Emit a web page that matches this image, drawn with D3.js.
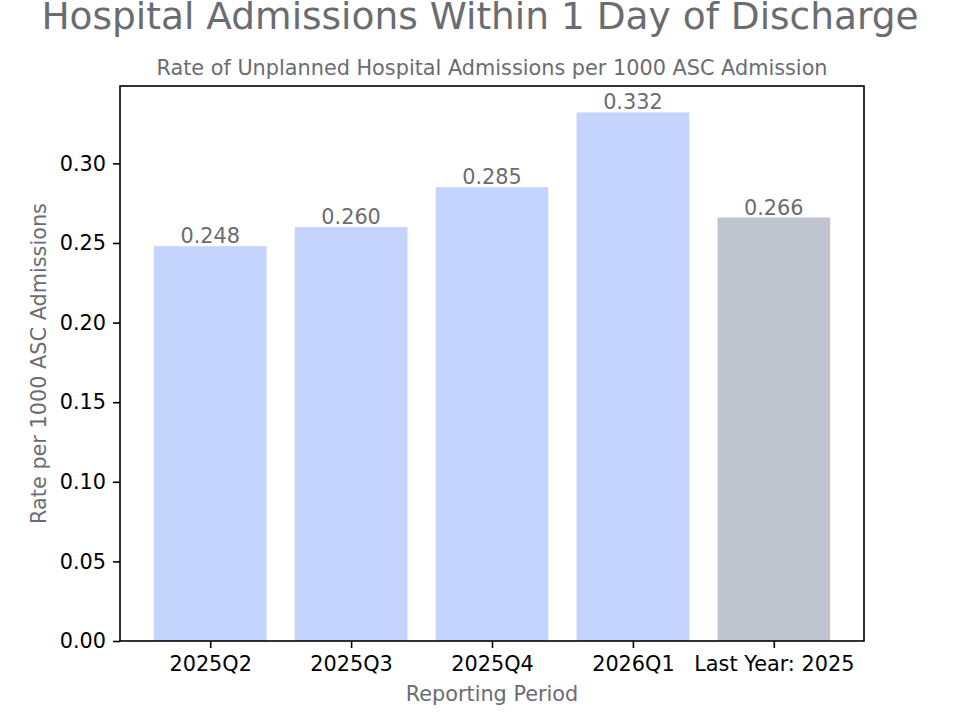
<html>
    <head>
        <script src="https://d3js.org/d3.v7.min.js"></script>
        <style>
            body { margin: 0; background: #fff; }
            text { font-family: "DejaVu Sans", sans-serif; }
        </style>
    </head>
    <body>
        <svg id="svg" width="960" height="720"></svg>
        <script>
            // data
            var periods = ["2025Q2", "2025Q3", "2025Q4", "2026Q1", "Last Year: 2025"];
            var rates = [0.248, 0.260, 0.285, 0.332, 0.266];
            var barColors = ["#c5d4fd", "#c5d4fd", "#c5d4fd", "#c5d4fd", "#c0c4cf"];
            var yTicks = [0, 0.05, 0.10, 0.15, 0.20, 0.25, 0.30];

            var svg = d3.select("svg");
            var plotL = 120, plotR = 864, plotT = 86, plotB = 641;
            var grey = "#6b6c72";
            var fs = 20.8;

            // matplotlib style: bars at 0..n-1, width 0.8, 5% margins
            var n = periods.length;
            var x = d3.scaleLinear()
                .domain([-0.4 - (n - 0.2) * 0.05, n - 0.6 + (n - 0.2) * 0.05])
                .range([plotL, plotR]);
            var y = d3.scaleLinear()
                .domain([0, d3.max(rates) * 1.05])
                .range([plotB, plotT]);

            var g = svg.append("g");

            g.selectAll("rect.bar").data(rates).enter().append("rect")
                .attr("class", "bar")
                .attr("x", function(d, i){ return x(i - 0.4); })
                .attr("width", function(d, i){ return x(i + 0.4) - x(i - 0.4); })
                .attr("y", function(d){ return y(d); })
                .attr("height", function(d){ return plotB - y(d); })
                .attr("fill", function(d, i){ return barColors[i]; });

            g.selectAll("text.val").data(rates).enter().append("text")
                .attr("class", "val")
                .attr("x", function(d, i){ return x(i); })
                .attr("y", function(d){ return y(d) - 3; })
                .attr("text-anchor", "middle")
                .attr("font-size", fs)
                .attr("fill", grey)
                .text(function(d){ return d.toFixed(3); });

            // axes
            var yAxis = d3.axisLeft(y).tickValues(yTicks)
                .tickFormat(d3.format(".2f")).tickSizeOuter(0).tickSize(7).tickPadding(7);
            var xAxis = d3.axisBottom(x).tickValues(d3.range(n))
                .tickFormat(function(i){ return periods[i]; }).tickSizeOuter(0).tickSize(7).tickPadding(8);

            var ya = svg.append("g").attr("transform", "translate(" + plotL + ",0)").call(yAxis);
            var xa = svg.append("g").attr("transform", "translate(0," + plotB + ")").call(xAxis);
            [ya, xa].forEach(function(a){
                a.select(".domain").remove();
                a.selectAll(".tick line").attr("stroke", "#000").attr("stroke-width", 1.6);
                a.selectAll(".tick text").attr("font-size", fs).attr("fill", "#000")
                    .attr("font-family", "DejaVu Sans");
            });

            // frame
            svg.append("rect")
                .attr("x", plotL).attr("y", plotT)
                .attr("width", plotR - plotL).attr("height", plotB - plotT)
                .attr("fill", "none").attr("stroke", "#000").attr("stroke-width", 1.6);

            // titles
            svg.append("text").attr("x", 480).attr("y", 29)
                .attr("text-anchor", "middle").attr("font-size", 37.5).attr("fill", grey)
                .text("Hospital Admissions Within 1 Day of Discharge");
            svg.append("text").attr("x", 492).attr("y", 75)
                .attr("text-anchor", "middle").attr("font-size", fs).attr("fill", grey)
                .text("Rate of Unplanned Hospital Admissions per 1000 ASC Admission");
            svg.append("text").attr("x", 492).attr("y", 701)
                .attr("text-anchor", "middle").attr("font-size", fs).attr("fill", grey)
                .text("Reporting Period");
            svg.append("text")
                .attr("transform", "translate(46," + (plotT + plotB) / 2 + ") rotate(-90)")
                .attr("text-anchor", "middle").attr("font-size", fs).attr("fill", grey)
                .text("Rate per 1000 ASC Admissions");
        </script>
    </body>
</html>
